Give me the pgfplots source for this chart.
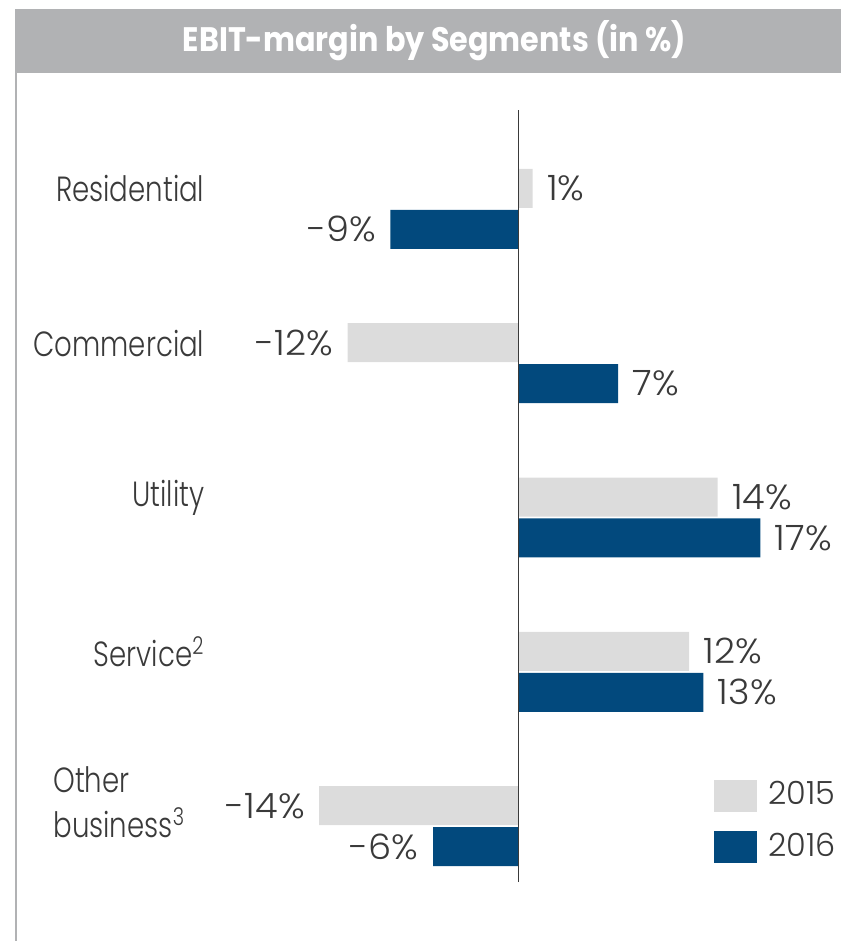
\documentclass[border=0pt]{standalone}
\usepackage{pgfplots}
\pgfplotsset{compat=1.18}
\usepackage{fontspec}
\setmainfont{Poppins Light}[FakeStretch=0.79]
\newfontfamily\valfont{Poppins Light}[FakeStretch=1.05]
\newfontfamily\legfont{Poppins Light}[FakeStretch=1.0]
\newfontfamily\titlefont{Poppins}[FakeStretch=0.89]
\definecolor{c15}{HTML}{DCDCDC}
\definecolor{c16}{HTML}{02497D}
\definecolor{txt}{HTML}{3A3A3A}
\definecolor{bar}{HTML}{B1B2B4}
\begin{document}
\begin{tikzpicture}[x=0.5pt,y=0.5pt]
\path (0,0) rectangle (842,942);
\fill[bar] (15,933) rectangle (842,869);
\draw[bar,line width=1pt] (16,869) -- (16,0);
\node[white,font=\fontsize{17}{20}\titlefont\bfseries,anchor=base,inner sep=0pt] at (435,890) {EBIT-margin by Segments (in \%)};
\begin{axis}[
  at={(8pt,29.5pt)}, anchor=south west,
  scale only axis, width=413pt, height=386.5pt,
  xmin=-35.3, xmax=22.67,
  ymin=-0.362, ymax=4.641,
  axis lines=none, clip=false,
  xbar, bar width=19.5pt,
  nodes near coords={\pgfplotspointmeta},
  point meta=explicit symbolic,
  visualization depends on={value \thisrow{a} \as \anch},
  every node near coord/.append style={font=\fontsize{17.5}{20}\valfont, text=txt, inner xsep=7pt, inner ysep=0pt, anchor=\anch},
  legend cell align=left,
  legend style={draw=none, fill=none, at={(axis cs:13.68,0.317)}, anchor=north west, inner sep=0pt, row sep=8.5pt, font=\fontsize{16}{19}\legfont, text=txt,
    /tikz/every odd column/.style={column sep=4pt}},
  legend image code/.code={\fill[#1] (0pt,-8.5pt) rectangle (21.5pt,7.5pt);},
]
\addplot[fill=c15, draw=none, bar shift=10.25pt] table[meta=l] {
x y l a
1 4 1\% west
-12 3 -12\% east
14 2 14\% west
12 1 12\% west
-14 0 -14\% east
};
\addlegendentry{2015}
\addplot[fill=c16, draw=none, bar shift=-10.25pt] table[meta=l] {
x y l a
-9 4 -9\% east
7 3 7\% west
17 2 17\% west
13 1 13\% west
-6 0 -6\% east
};
\addlegendentry{2016}
\draw[txt, line width=0.75pt] (axis cs:0,-0.362) -- (axis cs:0,4.641);
\begin{scope}[font=\fontsize{17.5}{23}\selectfont, text=txt, inner sep=0pt]
\node[anchor=east, yshift=10pt] at (axis cs:-22.04,4) {Residential};
\node[anchor=east, yshift=10pt] at (axis cs:-22.04,3) {Commercial};
\node[anchor=east, yshift=10pt] at (axis cs:-22.04,2) {Utility};
\node[anchor=east, yshift=10pt] at (axis cs:-22.04,1) {Service\textsuperscript{2}};
\node[anchor=west, align=left, yshift=12pt] at (axis cs:-32.7,0) {Other\\business\textsuperscript{3}};
\end{scope}
\end{axis}
\end{tikzpicture}
\end{document}
